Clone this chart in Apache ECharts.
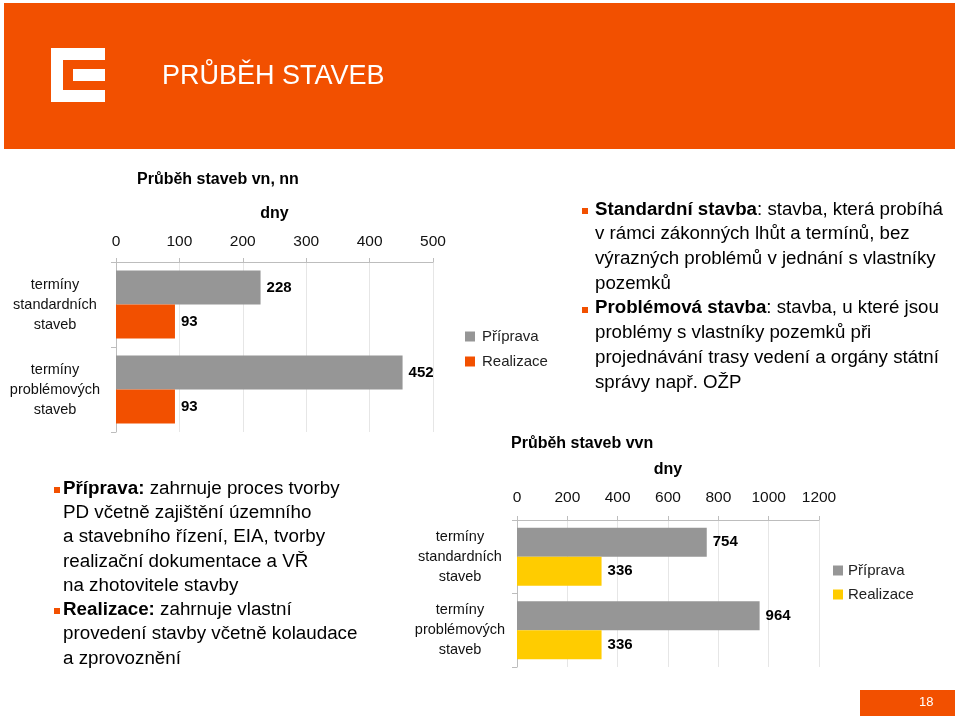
<!DOCTYPE html>
<html><head><meta charset="utf-8">
<script src="https://cdn.jsdelivr.net/npm/echarts@6/dist/echarts.min.js"></script>
<style>html,body{margin:0;padding:0;background:#fff}#c{width:959px;height:721px}</style>
</head><body><div id="c"></div>
<script>
// ---- data ----
const categories = ['termíny\nstandardních\nstaveb', 'termíny\nproblémových\nstaveb'];
const legendNames = ['Příprava', 'Realizace'];
const vnPriprava = [228, 452];
const vnRealizace = [93, 93];
const vvnPriprava = [754, 964];
const vvnRealizace = [336, 336];
const vnAxis = { min: 0, max: 500, interval: 100 };
const vvnAxis = { min: 0, max: 1200, interval: 200 };
const titleVn = 'Průběh staveb vn, nn';
const titleVvn = 'Průběh staveb vvn';
const axisName = 'dny';
const pageTitle = 'PRŮBĚH STAVEB';
const pageNumber = '18';

const FONT = '"Liberation Sans", Arial, sans-serif';
const ORANGE = '#F25000';
const GRAY = '#969696';
const YELLOW = '#FFCC00';

const chart = echarts.init(document.getElementById('c'), null, { renderer: 'canvas' });

function xAx(gridIndex, ax, margin, nameGap) {
  return {
    type: 'value', gridIndex, position: 'top',
    min: ax.min, max: ax.max, interval: ax.interval,
    name: axisName, nameLocation: 'middle', nameGap,
    nameTextStyle: { fontFamily: FONT, fontSize: 16, fontWeight: 'bold', color: '#000' },
    axisLine: { show: true, lineStyle: { color: '#bdbdbd', width: 1 } },
    axisTick: { show: true, length: 4, lineStyle: { color: '#bdbdbd' } },
    splitLine: { show: true, lineStyle: { color: '#e6e6e6', width: 1 } },
    axisLabel: { fontFamily: FONT, fontSize: 15.5, color: '#111', margin, formatter: v => String(v) }
  };
}
function yAx(gridIndex, margin) {
  return {
    type: 'category', gridIndex, inverse: true, data: categories,
    axisLine: { show: true, lineStyle: { color: '#bdbdbd', width: 1 } },
    axisTick: { show: true, length: 5, lineStyle: { color: '#bdbdbd' } },
    axisLabel: { fontFamily: FONT, fontSize: 14.5, lineHeight: 20, color: '#111', align: 'center', margin }
  };
}
const lbl = { show: true, position: 'right', distance: 6, fontFamily: FONT, fontSize: 15, fontWeight: 'bold', color: '#000' };

function bullet(x, y) { return { type: 'rect', shape: { x, y, width: 6, height: 6 }, style: { fill: ORANGE } }; }
const richStyles = {
  b: { fontFamily: FONT, fontSize: 18.7, fontWeight: 'bold', lineHeight: 24.7, fill: '#000' },
  n: { fontFamily: FONT, fontSize: 18.7, lineHeight: 24.7, fill: '#000' }
};
const richStyles2 = {
  b: { fontFamily: FONT, fontSize: 18.8, fontWeight: 'bold', lineHeight: 24.3, fill: '#000' },
  n: { fontFamily: FONT, fontSize: 18.8, lineHeight: 24.3, fill: '#000' }
};

const option = {
  animation: false,
  backgroundColor: '#fff',
  title: [
    { text: titleVn, left: 137, top: 172, padding: 0, textStyle: { fontFamily: FONT, fontSize: 16, fontWeight: 'bold', color: '#000' } },
    { text: titleVvn, left: 511, top: 436, padding: 0, textStyle: { fontFamily: FONT, fontSize: 16, fontWeight: 'bold', color: '#000' } }
  ],
  legend: [
    { orient: 'vertical', left: 465, top: 329, itemWidth: 10, itemHeight: 10, itemGap: 10, icon: 'rect', padding: 0,
      data: legendNames, textStyle: { fontFamily: FONT, fontSize: 15, color: '#222', padding: [0, 0, 0, 2] } },
    { orient: 'vertical', left: 833, top: 563, itemWidth: 10, itemHeight: 10, itemGap: 9, icon: 'rect', padding: 0,
      data: legendNames.map(n => n + ' (vvn)'), formatter: n => n.replace(' (vvn)', ''),
      textStyle: { fontFamily: FONT, fontSize: 15, color: '#222', padding: [0, 0, 0, 0] } }
  ],
  grid: [
    { left: 116, top: 262, width: 317, height: 170, containLabel: false },
    { left: 517, top: 520, width: 302, height: 147, containLabel: false }
  ],
  xAxis: [xAx(0, vnAxis, 12, 40), xAx(1, vvnAxis, 14, 42)],
  yAxis: [yAx(0, 61), yAx(1, 57)],
  series: [
    { name: legendNames[0], type: 'bar', xAxisIndex: 0, yAxisIndex: 0, data: vnPriprava, barGap: '0%', barCategoryGap: '20%', itemStyle: { color: GRAY }, label: lbl },
    { name: legendNames[1], type: 'bar', xAxisIndex: 0, yAxisIndex: 0, data: vnRealizace, barGap: '0%', barCategoryGap: '20%', itemStyle: { color: ORANGE }, label: lbl },
    { name: legendNames[0] + ' (vvn)', type: 'bar', xAxisIndex: 1, yAxisIndex: 1, data: vvnPriprava, barGap: '0%', barCategoryGap: '21%', itemStyle: { color: GRAY }, label: lbl },
    { name: legendNames[1] + ' (vvn)', type: 'bar', xAxisIndex: 1, yAxisIndex: 1, data: vvnRealizace, barGap: '0%', barCategoryGap: '21%', itemStyle: { color: YELLOW }, label: lbl }
  ],
  graphic: [
    { type: 'rect', shape: { x: 4, y: 3, width: 951, height: 146 }, style: { fill: ORANGE }, z: -10 },
    { type: 'rect', shape: { x: 51, y: 48, width: 12, height: 54 }, style: { fill: '#fff' } },
    { type: 'rect', shape: { x: 51, y: 48, width: 54, height: 12 }, style: { fill: '#fff' } },
    { type: 'rect', shape: { x: 51, y: 90, width: 54, height: 12 }, style: { fill: '#fff' } },
    { type: 'rect', shape: { x: 73, y: 69, width: 32, height: 12 }, style: { fill: '#fff' } },
    { type: 'text', left: 162, top: 63, style: { text: pageTitle, fill: '#fff', fontFamily: FONT, fontSize: 27 } },
    bullet(582, 208), bullet(582, 307),
    { type: 'text', left: 595, top: 200, style: {
      text: '{b|Standardní stavba}{n|: stavba, která probíhá}\n{n|v rámci zákonných lhůt a termínů, bez}\n{n|výrazných problémů v jednání s vlastníky}\n{n|pozemků}\n' +
            '{b|Problémová stavba}{n|: stavba, u které jsou}\n{n|problémy s vlastníky pozemků při}\n{n|projednávání trasy vedení a orgány státní}\n{n|správy např. OŽP}',
      rich: richStyles, fill: '#000' } },
    bullet(54, 487), bullet(54, 608),
    { type: 'text', left: 63, top: 479, style: {
      text: '{b|Příprava:}{n| zahrnuje proces tvorby}\n{n|PD včetně zajištění územního}\n{n|a stavebního řízení, EIA, tvorby}\n{n|realizační dokumentace a VŘ}\n{n|na zhotovitele stavby}\n' +
            '{b|Realizace:}{n| zahrnuje vlastní}\n{n|provedení stavby včetně kolaudace}\n{n|a zprovoznění}',
      rich: richStyles2, fill: '#000' } },
    { type: 'rect', shape: { x: 860, y: 690, width: 95, height: 26 }, style: { fill: ORANGE } },
    { type: 'text', left: 919, top: 696, style: { text: pageNumber, fill: '#fff', fontFamily: FONT, fontSize: 13 } }
  ]
};
chart.setOption(option);
</script>
</body></html>
